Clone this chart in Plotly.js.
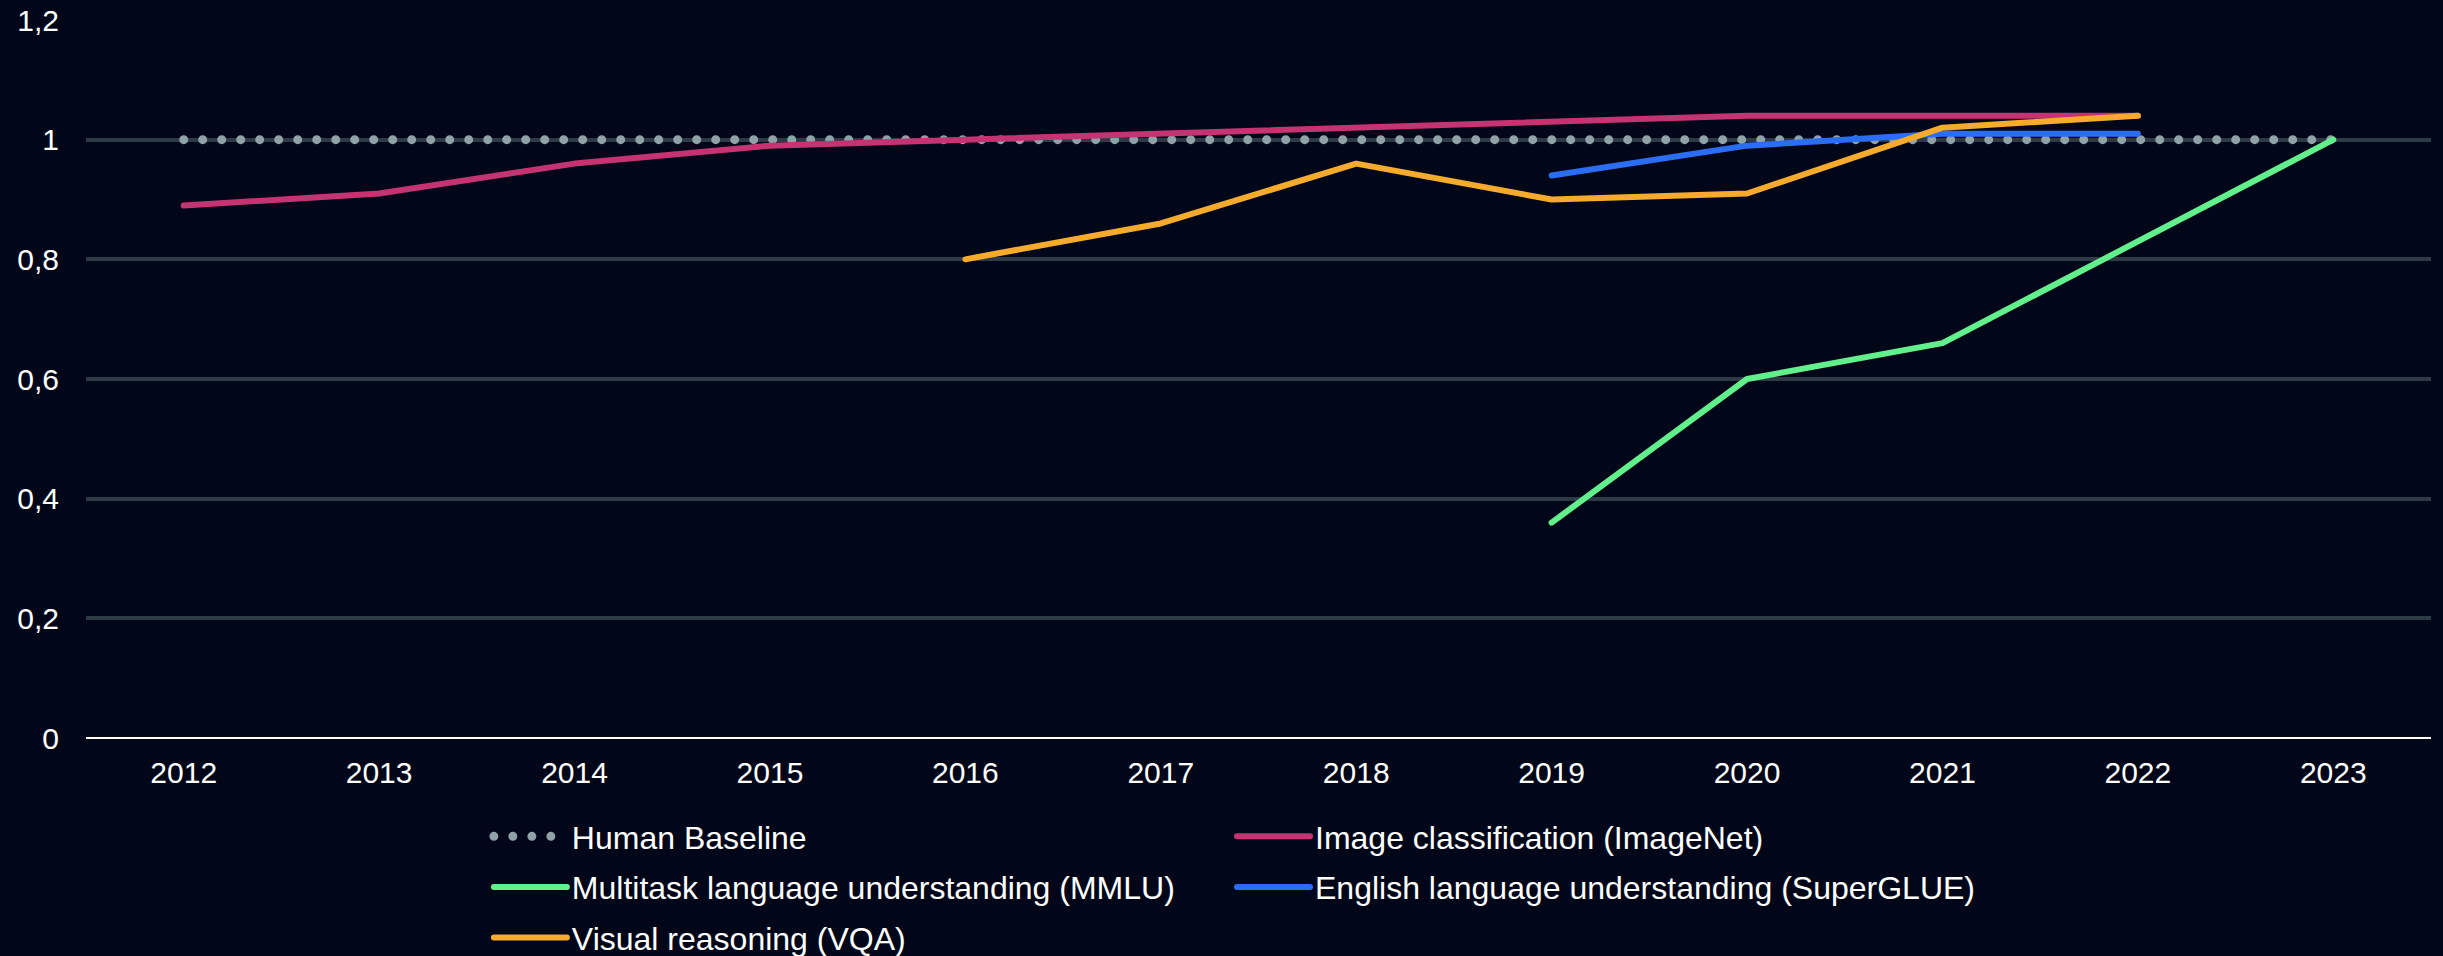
<!DOCTYPE html>
<html>
<head>
<meta charset="utf-8">
<script src="https://cdn.plot.ly/plotly-3.0.1.min.js"></script>
<style>
html, body { margin: 0; padding: 0; background: #010718; }
#chart { width: 2443px; height: 956px; }
.js-line { stroke-linecap: round; stroke-linejoin: round; }
</style>
</head>
<body>
<div id="chart"></div>
<script>
const years = ["2012","2013","2014","2015","2016","2017","2018","2019","2020","2021","2022","2023"];
const seriesNames = [
  "Human Baseline",
  "Image classification (ImageNet)",
  "Multitask language understanding (MMLU)",
  "English language understanding (SuperGLUE)",
  "Visual reasoning (VQA)"
];
const humanBaseline = [1, 1, 1, 1, 1, 1, 1, 1, 1, 1, 1, 1];
const imageNet      = [0.89, 0.91, 0.96, 0.99, 1.00, 1.01, 1.02, 1.03, 1.04, 1.04, 1.04, null];
const mmlu          = [null, null, null, null, null, null, null, 0.36, 0.60, 0.66, 0.83, 1.00];
const superGlue     = [null, null, null, null, null, null, null, 0.94, 0.99, 1.01, 1.01, null];
const vqa           = [null, null, null, null, 0.80, 0.86, 0.96, 0.90, 0.91, 1.02, 1.04, null];
const yTicks = [0, 0.2, 0.4, 0.6, 0.8, 1, 1.2];

const colors = ["#8fa2a8", "#c63372", "#62f08c", "#2a6df6", "#f6ab2d"];
const values = [humanBaseline, imageNet, mmlu, superGlue, vqa];
const legendOf = ["legend", "legend2", "legend", "legend2", "legend"];

const traces = values.map((v, i) => ({
  type: "scatter",
  mode: "lines",
  x: years,
  y: v,
  name: seriesNames[i],
  legend: legendOf[i],
  legendgroup: "g" + i,
  line: i === 0
    ? { color: colors[i], width: 9, dash: "0px,19px" }
    : { color: colors[i], width: 6 },
  hoverinfo: "skip"
}));

const font = { family: "Liberation Sans, Arial, sans-serif", size: 30, color: "#ffffff" };
const legendBase = {
  orientation: "v",
  xanchor: "left",
  yanchor: "top",
  y: -0.0989,
  bgcolor: "rgba(0,0,0,0)",
  font: { family: "Liberation Sans, Arial, sans-serif", size: 32, color: "#ffffff" },
  itemwidth: 73,
  tracegroupgap: 6,
  traceorder: "grouped"
};

const layout = {
  width: 2443,
  height: 956,
  paper_bgcolor: "#010718",
  plot_bgcolor: "#010718",
  separators: ", ",
  font: font,
  margin: { l: 86, r: 12, t: 20, b: 218, pad: 0, autoexpand: false },
  showlegend: true,
  xaxis: {
    type: "category",
    categoryorder: "array",
    categoryarray: years,
    range: [-0.5, 11.5],
    showgrid: false,
    zeroline: false,
    showline: false,
    ticks: "",
    tickfont: font,
    ticklabelstandoff: 14
  },
  yaxis: {
    range: [0, 1.2],
    tickvals: yTicks,
    showgrid: true,
    gridcolor: "#2e3a46",
    gridwidth: 4,
    zeroline: true,
    zerolinecolor: "#ffffff",
    zerolinewidth: 2,
    showline: false,
    ticks: "",
    tickfont: font,
    ticklabelstandoff: 26
  },
  legend: Object.assign({}, legendBase, { x: 0.1718 }),
  legend2: Object.assign({}, legendBase, { x: 0.4887 })
};

Plotly.newPlot("chart", traces, layout, { displayModeBar: false, staticPlot: true });
</script>
</body>
</html>
